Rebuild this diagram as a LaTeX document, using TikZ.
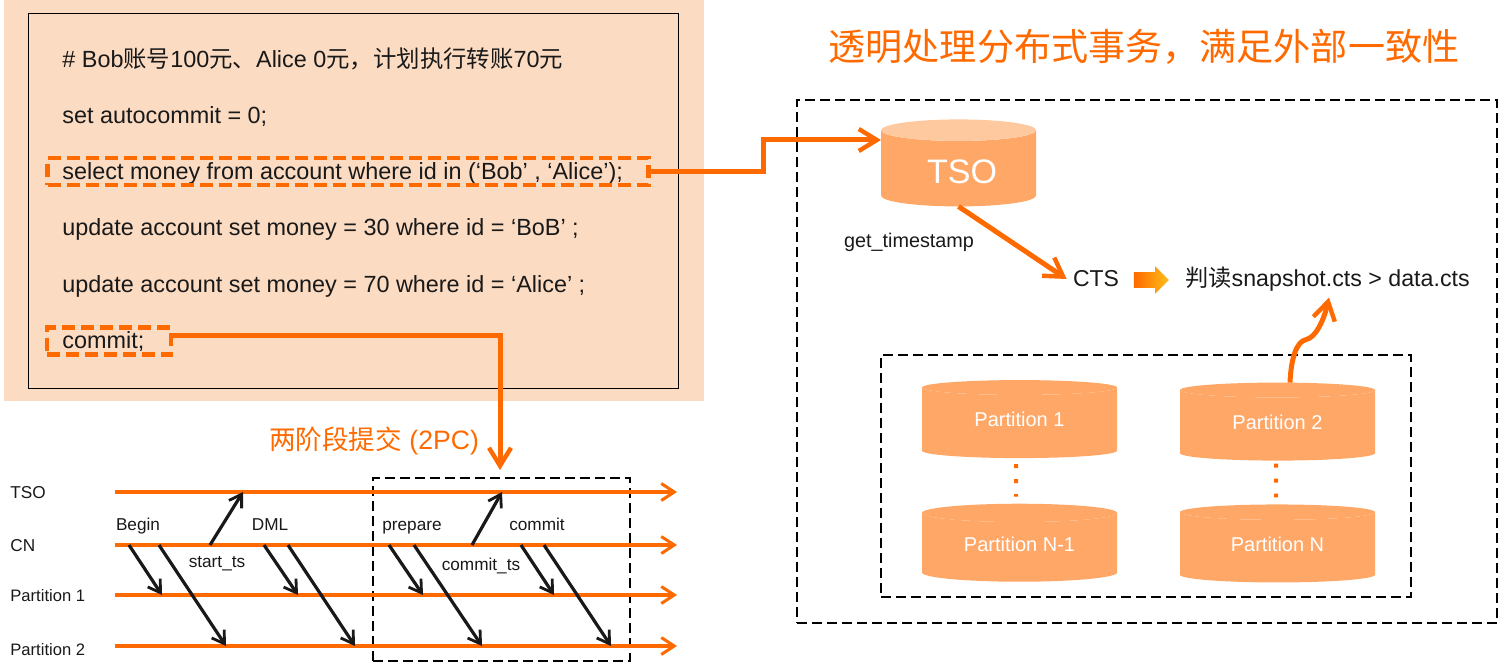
\documentclass[tikz,border=0pt]{standalone}
\usepackage{fontspec}
\setmainfont{Liberation Sans}
\newfontfamily\cjk{Noto Sans CJK SC}
\usetikzlibrary{arrows.meta,shapes.geometric,shapes.arrows,calc}
\definecolor{accent}{HTML}{FF6A00}
\definecolor{peach}{HTML}{FBDBC2}
\definecolor{drum}{HTML}{FFA766}
\definecolor{drumtop}{HTML}{FFC9A0}
\definecolor{goldtone}{HTML}{FFBE1A}
% Moves a cylinder's caption without changing the box the shape is built round
\newcommand{\drumlabel}[2]{\raisebox{#1}[0.7em][0.2em]{#2}}
\tikzset{
  px/.style={x=0.5pt,y=-0.5pt},
  rail/.style={accent,line width=1.8pt,-{Straight Barb[length=6.5pt,width=8.5pt,line width=1.5pt]}},
  msg/.style={black!90,line width=1.6pt,-{Straight Barb[length=6pt,width=7.5pt,line width=1.4pt]}},
  link/.style={accent,line width=2.5pt,-{Straight Barb[length=9pt,width=11pt,line width=2.2pt]}},
  label/.style={inner sep=0pt,font=\fontsize{8.6pt}{10pt}\selectfont,text=black!90},
  codeline/.style={anchor=base west,inner sep=0pt,font=\fontsize{11.7pt}{14pt}\selectfont,text=black!90},
  hilite/.style={draw=accent,line width=2.3pt,dash pattern=on 6.5pt off 3pt,inner sep=0pt,outer sep=0pt,anchor=north west},
  frame/.style={draw=black,line width=1.3pt,dash pattern=on 5pt off 2.5pt,inner sep=0pt,outer sep=0pt,anchor=north west},
  dots/.style={accent,line width=2pt,dash pattern=on 2pt off 5.5pt},
  drumnode/.style={cylinder,shape border rotate=90,draw=none,cylinder uses custom fill,
    cylinder body fill=drum,cylinder end fill=#1,text=white,inner sep=0pt,outer sep=0pt,
    minimum width=97.5pt,minimum height=39pt,aspect=0.165,
    font=\fontsize{10pt}{12pt}\selectfont},
}
\begin{document}
\begin{tikzpicture}[px]
\useasboundingbox (0,0) rectangle (1500,669);

% SQL panel
\fill[peach] (4,0) rectangle (704,401);
\draw[black,line width=0.45pt] (28,13) rectangle (678,388);
\node[codeline] (l1) at (62,67) {\# Bob{\cjk 账号}100{\cjk 元、}Alice 0{\cjk 元，计划执行转账}70{\cjk 元}};
\node[codeline] (l2) at (62,123) {set autocommit = 0;};
\node[codeline] (l3) at (62,179) {select money from account where id in (‘Bob’ , ‘Alice’);};
\node[codeline] (l4) at (62,235) {update account set money = 30 where id = ‘BoB’ ;};
\node[codeline] (l5) at (62,292) {update account set money = 70 where id = ‘Alice’ ;};
\node[codeline] (l6) at (62,348) {commit;};
\node[hilite,minimum width=300.5pt,minimum height=13.5pt] (hs) at (47.5,158) {};
\node[hilite,minimum width=62pt,minimum height=13.5pt] (hc) at (47,327.5) {};

% Title
\node[inner sep=0pt,text=accent,font=\fontsize{18.55pt}{22pt}\selectfont] (title) at (1144,47) {\cjk 透明处理分布式事务，满足外部一致性};

% Right-hand frames
\node[frame,minimum width=350pt,minimum height=261.5pt] (outer) at (797,100) {};
\node[frame,minimum width=265pt,minimum height=121pt] (inner) at (881,355) {};

% Cylinders
\node[drumnode=drumtop,minimum width=77.5pt,minimum height=43.5pt,aspect=0.28,font=\fontsize{17pt}{18pt}\selectfont] (tso) at (958.5,168.5) {\drumlabel{-3pt}{\hspace{3.5pt}TSO}};
\node[drumnode=drum] (p1) at (1019.5,423) {\drumlabel{0.75pt}{Partition 1}};
\node[drumnode=drum] (pn1) at (1019.5,547.5) {\drumlabel{0.75pt}{Partition N-1}};
\node[drumnode=drum] (p2) at (1277.5,425.5) {\drumlabel{0.75pt}{Partition 2}};
\node[drumnode=drum] (pn) at (1277.5,547.5) {\drumlabel{0.75pt}{Partition N}};
\draw[dots] ($(p1.south)+(-3.5,6)$) -- ($(pn1.north)+(-3.5,-7)$);
\draw[dots] ($(p2.south)+(-1.5,3)$) -- ($(pn.north)+(-1.5,-7)$);

% Timestamp result row
\node[label,font=\fontsize{9.9pt}{12pt}\selectfont] (gts) at (909,242) {get\_timestamp};
\node[label,font=\fontsize{11.5pt}{14pt}\selectfont] (cts) at (1096,279) {CTS};
\node[single arrow,left color=accent,right color=goldtone,draw=none,inner xsep=0pt,inner ysep=3.75pt,outer sep=0pt,
      minimum height=17.5pt,minimum width=13.5pt,single arrow head extend=3pt,
      single arrow head indent=0pt] (go) at (1147.5,280) {};
\node[label,font=\fontsize{11.6pt}{14pt}\selectfont] (read) at (1327.5,279) {{\cjk 判读}snapshot.cts > data.cts};

% Two-phase commit frame, which the commit link points at
\node[frame,minimum width=128.5pt,minimum height=91.5pt] (tpcbox) at (373,478) {};

% Connectors between the panels
\coordinate (tsoin) at ($(tso.west)+(0,-28.5)$);
\coordinate (ctsin) at ($(cts.west)+(-6,0)$);
\coordinate (readin) at ($(read.south)+(1.5,6)$);
\coordinate (p2out) at ($(p2.north)+(12.5,0)$);
\coordinate (p2bend) at ($(p2out)+(16,-43)$);
\coordinate (hcout) at ($(hc.north east)+(0,7.5)$);
\coordinate (tpcin) at ($(tpcbox.north)+(-1.5,-8)$);
\draw[link] (hs.east) -- ++(115,0) |- (tsoin);
\draw[link] (tso.south) -- (ctsin);
\draw[link] (p2out) .. controls +(1,-23) and +(-10,2) .. (p2bend) .. controls +(10,-2) and +(-5,22) .. (readin);
\draw[link] (hcout) -| (tpcin);

% Two-phase commit timeline
\node[inner sep=0pt,text=accent,font=\fontsize{13.3pt}{16pt}\selectfont] (tpc) at (374,441) {{\cjk 两阶段提交} (2PC)};
\node[label,anchor=west] (rt) at (10,493) {TSO};
\node[label,anchor=west] (rc) at (10,546) {CN};
\node[label,anchor=west,font=\fontsize{8.3pt}{10pt}\selectfont] (r1) at (10,596) {Partition 1};
\node[label,anchor=west,font=\fontsize{8.3pt}{10pt}\selectfont] (r2) at (10,650) {Partition 2};
\coordinate (a0) at (115,492); \coordinate (a1) at (677,492);
\coordinate (b0) at (115,545); \coordinate (b1) at (677,545);
\coordinate (c0) at (115,595); \coordinate (c1) at (677,595);
\coordinate (d0) at (115,646); \coordinate (d1) at (677,646);
\draw[rail] (a0) -- (a1);
\draw[rail] (b0) -- (b1);
\draw[rail] (c0) -- (c1);
\draw[rail] (d0) -- (d1);
\foreach \s/\e/\ra/\rb in {129/162/b0/c0,159/226/b0/d0,264/298/b0/c0,288/355/b0/d0,
    389/423/b0/c0,414/482/b0/d0,521/554/b0/c0,544/611/b0/d0,
    210/243/b0/a0,472/502/b0/a0}
  \draw[msg] (\s,0 |- \ra) -- (\e,0 |- \rb);
\node[label,anchor=base] (begin) at (138,530) {Begin};
\node[label,anchor=base] (dml) at (270,530) {DML};
\node[label,anchor=base] (prep) at (412,530) {prepare};
\node[label,anchor=base] (comm) at (537,530) {commit};
\node[label,anchor=base] (sts) at (217,567) {start\_ts};
\node[label,anchor=base] (cmts) at (481,570) {commit\_ts};
\end{tikzpicture}
\end{document}
